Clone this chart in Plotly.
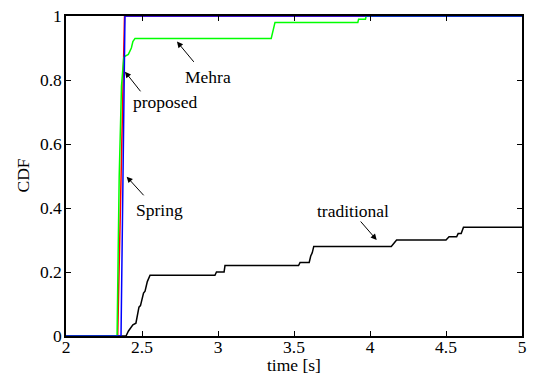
import plotly.graph_objects as go

# ---- data ----
x_trad = [2.0, 2.395, 2.41, 2.43, 2.44, 2.46, 2.47, 2.48, 2.49, 2.50, 2.51, 2.52, 2.535, 2.553,
          2.98, 2.99, 3.04, 3.046, 3.53, 3.54, 3.60, 3.61, 3.62, 3.63, 4.14, 4.175,
          4.50, 4.52, 4.57, 4.58, 4.60, 4.615, 5.0]
y_trad = [0.0, 0.0, 0.015, 0.03, 0.035, 0.04, 0.06, 0.09, 0.095, 0.12, 0.134, 0.14, 0.17, 0.19,
          0.19, 0.20, 0.20, 0.22, 0.22, 0.23, 0.23, 0.25, 0.26, 0.28, 0.28, 0.30,
          0.30, 0.31, 0.31, 0.32, 0.32, 0.34, 0.34]

x_prop = [2.0, 2.34, 2.385, 5.0]
y_prop = [0.0, 0.0, 1.0, 1.0]

x_mehra = [2.0, 2.336, 2.35, 2.365, 2.38, 2.39, 2.41, 2.42, 2.43, 2.44, 2.454,
           3.35, 3.36, 3.375, 3.92, 3.925, 3.97, 3.975, 5.0]
y_mehra = [0.0, 0.0, 0.5, 0.78, 0.87, 0.875, 0.88, 0.89, 0.90, 0.92, 0.93,
           0.93, 0.95, 0.98, 0.98, 0.99, 0.99, 1.0, 1.0]

x_spring = [2.0, 2.362, 2.388, 5.0]
y_spring = [0.0, 0.0, 1.0, 1.0]

x_ticks = [2, 2.5, 3, 3.5, 4, 4.5, 5]
x_tick_labels = ["2", "2.5", "3", "3.5", "4", "4.5", "5"]
y_ticks = [0, 0.2, 0.4, 0.6, 0.8, 1]
y_tick_labels = ["0", "0.2", "0.4", "0.6", "0.8", "1"]

# labels: (text, text_x, text_y, tail_x, tail_y, head_x, head_y)
labels = [
    ("Mehra", 2.934, 0.809, 2.849, 0.852, 2.730, 0.92),
    ("proposed", 2.651, 0.732, 2.498, 0.760, 2.388, 0.826),
    ("Spring", 2.614, 0.394, 2.520, 0.435, 2.399, 0.498),
    ("traditional", 3.89, 0.392, 3.93, 0.3625, 4.044, 0.30),
]

FONT = "Liberation Serif"
FS = 17.5

fig = go.Figure()
fig.add_trace(go.Scatter(x=x_trad, y=y_trad, mode="lines", line=dict(color="black", width=1.5),
                         name="traditional"))
fig.add_trace(go.Scatter(x=x_prop, y=y_prop, mode="lines", line=dict(color="#ff0000", width=1.5),
                         name="proposed"))
fig.add_trace(go.Scatter(x=x_mehra, y=y_mehra, mode="lines", line=dict(color="#00ff00", width=1.5),
                         name="Mehra"))
fig.add_trace(go.Scatter(x=x_spring, y=y_spring, mode="lines", line=dict(color="#0000ff", width=1.5),
                         name="Spring"))

for text, tx, ty, ax_, ay_, hx, hy in labels:
    fig.add_annotation(x=hx, y=hy, ax=ax_, ay=ay_, xref="x", yref="y", axref="x", ayref="y",
                       text="", showarrow=True, arrowhead=2, arrowsize=1.2, arrowwidth=1,
                       arrowcolor="black", standoff=0, startstandoff=0)
    fig.add_annotation(x=tx, y=ty, xref="x", yref="y", text=text, showarrow=False,
                       font=dict(family=FONT, size=FS, color="black"),
                       xanchor="center", yanchor="middle")

# axis titles placed precisely (MATLAB-style tight placement)
fig.add_annotation(x=0.5, y=0, xref="paper", yref="paper", yshift=-29, text="time [s]",
                   showarrow=False, xanchor="center", yanchor="middle",
                   font=dict(family=FONT, size=FS, color="black"))
fig.add_annotation(x=0, y=0.5, xref="paper", yref="paper", xshift=-43.5, text="CDF",
                   showarrow=False, xanchor="center", yanchor="middle", textangle=-90,
                   font=dict(family=FONT, size=FS, color="black"))

fig.update_layout(
    width=535, height=378,
    margin=dict(l=66, r=13, t=16, b=42),
    paper_bgcolor="white", plot_bgcolor="white",
    showlegend=False,
    font=dict(family=FONT, size=FS, color="black"),
)
fig.update_xaxes(
    range=[2, 5], tickvals=x_ticks, ticktext=x_tick_labels,
    showline=True, linecolor="black", linewidth=1.5, mirror="ticks",
    ticks="inside", ticklen=5, tickcolor="black", tickwidth=1,
    showgrid=False, zeroline=False, automargin=False,
    tickfont=dict(family=FONT, size=FS), ticklabelstandoff=-6,
    ticklabeloverflow="allow",
)
fig.update_yaxes(
    range=[0, 1], tickvals=y_ticks, ticktext=y_tick_labels,
    showline=True, linecolor="black", linewidth=1.5, mirror="ticks",
    ticks="inside", ticklen=5, tickcolor="black", tickwidth=1,
    showgrid=False, zeroline=False, automargin=False,
    tickfont=dict(family=FONT, size=FS), ticklabelstandoff=-1,
    ticklabeloverflow="allow",
)

# remove the default 8px page margin so the figure fills the 535x378 window exactly
fig.write_html("out.html", config={"displayModeBar": False},
               post_script="document.body.style.margin='0';")
